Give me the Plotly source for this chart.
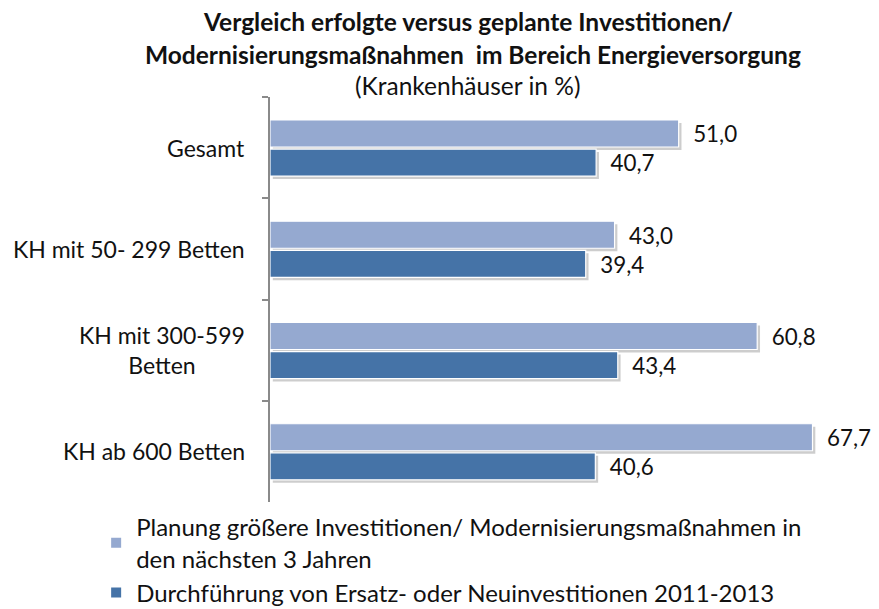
import plotly.graph_objects as go

# ---- data ----
category_keys = ["Gesamt", "KH 50-299", "KH 300-599", "KH ab 600"]
category_labels = ["Gesamt", "KH mit 50- 299 Betten", "KH mit 300-599<br>Betten", "KH ab 600 Betten"]
planung = [51.0, 43.0, 60.8, 67.7]
durchfuehrung = [40.7, 39.4, 43.4, 40.6]
series_names = [
    "Planung größere Investitionen/ Modernisierungsmaßnahmen in<br>den nächsten 3 Jahren",
    "Durchführung von Ersatz- oder Neuinvestitionen 2011-2013",
]
title_lines = [
    "Vergleich erfolgte versus geplante Investitionen/",
    "Modernisierungsmaßnahmen  im Bereich Energieversorgung",
]
subtitle = "(Krankenhäuser in %)"

FONT = "Lato, 'Open Sans', sans-serif"
LIGHT = "#95A9D0"
DARK = "#4573A7"
NB = "\u00a0"

# page body has an 8px margin -> figure is laid out in page coords minus 8
PAD = 8
FIG_W, FIG_H = 871, 601
L, T = 262, 89
PW, PH = 601.5, 405

def px_x(xpage):
    return (xpage - PAD - L) / PW

def px_y(ypage):
    return (T + PH - (ypage - PAD)) / PH

def fmt(v):
    return NB * 2 + f"{v:.1f}".replace(".", ",")

BAR_W = 0.267
OFF_LIGHT = -0.273
OFF_DARK = 0.014
SH_DY = 0.03
SH_DX = 0.35

fig = go.Figure()

# soft shadows under the bars
for vals, off in [(planung, OFF_LIGHT), (durchfuehrung, OFF_DARK)]:
    fig.add_trace(go.Bar(
        y=category_keys, x=vals, orientation="h", base=SH_DX,
        width=BAR_W, offset=off + SH_DY,
        marker=dict(color="rgba(90,90,90,0.30)", line=dict(width=0)),
        showlegend=False, hoverinfo="skip",
    ))

for name, vals, color, off in [
    (series_names[0], planung, LIGHT, OFF_LIGHT),
    (series_names[1], durchfuehrung, DARK, OFF_DARK),
]:
    fig.add_trace(go.Bar(
        y=category_keys, x=vals, orientation="h", name=name,
        width=BAR_W, offset=off,
        marker=dict(color=color, line=dict(color="white", width=1.2)),
        text=[fmt(v) for v in vals], textposition="outside",
        textfont=dict(family=FONT, size=24, color="#111"),
        cliponaxis=False,
    ))

annotations = []
for key, lab in zip(category_keys, category_labels):
    annotations.append(dict(
        x=0, xref="paper", y=key, yref="y", xanchor="right", yanchor="middle",
        xshift=-23, text=lab, showarrow=False, align="center",
        font=dict(family=FONT, size=23, color="#111"),
    ))

for txt, ypix, xpix, bold in [
    (title_lines[0], 21, 468, True),
    (title_lines[1], 54, 473, True),
    (subtitle, 86, 468, False),
]:
    annotations.append(dict(
        x=px_x(xpix), xref="paper",
        y=px_y(ypix), yref="paper",
        xanchor="center", yanchor="middle", showarrow=False,
        text=f"<b>{txt}</b>" if bold else txt,
        font=dict(family=FONT, size=24.5, color="#111"),
    ))

fig.update_layout(
    width=FIG_W, height=FIG_H,
    margin=dict(l=L, r=FIG_W - L - PW, t=T, b=FIG_H - T - PH, autoexpand=False),
    paper_bgcolor="white", plot_bgcolor="white",
    barmode="overlay",
    showlegend=True,
    legend=dict(
        orientation="v", x=px_x(96), xanchor="left", y=px_y(505), yanchor="top",
        font=dict(family=FONT, size=24, color="#111"),
        bgcolor="rgba(0,0,0,0)", itemsizing="constant",
    ),
    annotations=annotations,
    font=dict(family=FONT),
)
fig.update_xaxes(range=[0, 75], visible=False, showgrid=False, zeroline=False)
fig.update_yaxes(
    autorange="reversed", showticklabels=False, showgrid=False, zeroline=False,
    showline=True, linecolor="#8a8a8a", linewidth=1.5,
    ticks="outside", tickson="boundaries", ticklen=6, tickcolor="#8a8a8a", tickwidth=1.5,
)

fig.write_html("out.html")
